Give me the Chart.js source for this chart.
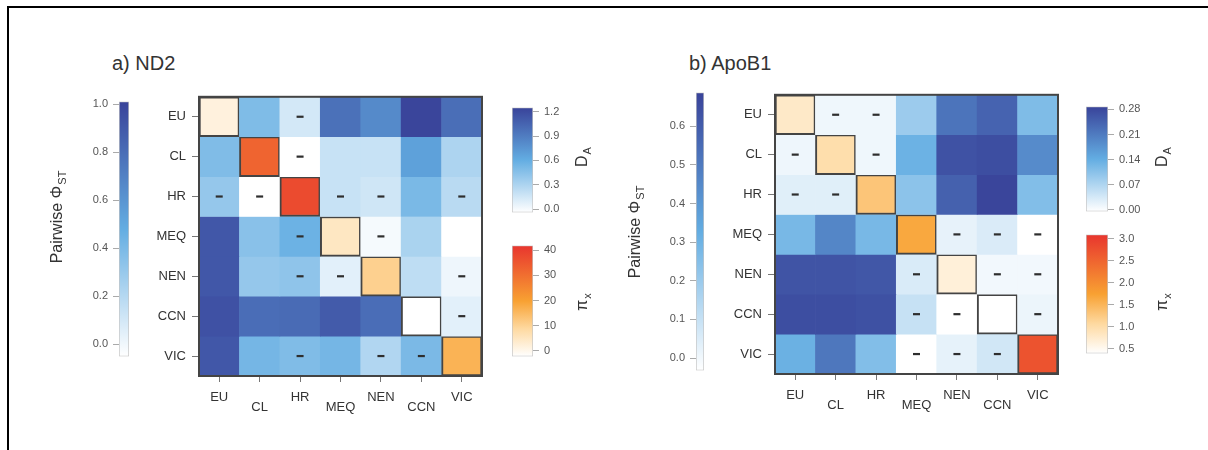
<!DOCTYPE html>
<html>
<head>
<meta charset="utf-8">
<script src="https://cdn.jsdelivr.net/npm/chart.js@4.4.1/dist/chart.umd.min.js"></script>
<style>
  html, body { margin: 0; padding: 0; background: #fff; overflow: hidden; }
  body { width: 1208px; height: 450px; position: relative; font-family: "Liberation Sans", Arial, sans-serif; }
  #frame { position: absolute; left: 7px; top: 6px; width: 1300px; height: 500px; border-left: 2px solid #000; border-top: 2px solid #000; }
  canvas { position: absolute; }
  .title { position: absolute; font-size: 20px; line-height: 20px; color: #333; }
</style>
</head>
<body>
<div id="frame"></div>
<div class="title" style="left:112px; top:53px">a) ND2</div>
<div class="title" style="left:689px; top:53px">b) ApoB1</div>

<script>
const pops = ['EU', 'CL', 'HR', 'MEQ', 'NEN', 'CCN', 'VIC'];

// a) ND2 : lower triangle = pairwise PhiST, upper triangle = D_A, diagonal = pi_x
const nd2Phi = [
  [],
  [0.38],
  [0.31, -0.05],
  [0.91, 0.35, 0.45],
  [0.91, 0.31, 0.33, 0.05],
  [0.94, 0.80, 0.81, 0.89, 0.80],
  [0.91, 0.42, 0.38, 0.42, 0.215, 0.40]
];
const nd2Da = [
  [0.49, 0.14, 0.97, 0.82, 1.24, 0.99],
  [-0.04, 0.19, 0.19, 0.68, 0.30],
  [0.19, 0.16, 0.51, 0.25],
  [0.0, 0.31, -0.04],
  [0.23, 0.03],
  [0.08],
  []
];
const nd2Pi = [1.7, 32.2, 37.5, 4.8, 10.5, -2.3, 16.3];
const nd2NS = [['EU', 'HR'], ['CL', 'HR'], ['HR', 'MEQ'], ['HR', 'NEN'], ['HR', 'VIC'], ['MEQ', 'NEN'], ['NEN', 'VIC'], ['CCN', 'VIC']];

// b) ApoB1
const apoPhi = [
  [],
  [0.008],
  [0.04, 0.04],
  [0.28, 0.46, 0.28],
  [0.63, 0.63, 0.62, 0.055],
  [0.65, 0.65, 0.64, 0.10, -0.032],
  [0.31, 0.51, 0.255, -0.032, 0.026, 0.075]
];
const apoDa = [
  [0.01, 0.01, 0.088, 0.22, 0.244, 0.115],
  [0.01, 0.133, 0.267, 0.273, 0.188],
  [0.103, 0.247, 0.285, 0.112],
  [0.018, 0.03, -0.005],
  [0.007, 0.007],
  [0.013],
  []
];
const apoPi = [0.78, 0.98, 1.31, 1.66, 0.66, 0.39, 2.72];
const apoNS = [['EU', 'CL'], ['EU', 'HR'], ['CL', 'HR'], ['MEQ', 'NEN'], ['MEQ', 'CCN'], ['MEQ', 'VIC'], ['NEN', 'CCN'], ['NEN', 'VIC'], ['CCN', 'VIC']];

// colour bar limits and tick labels
const nd2PhiLim = [-0.05, 1.01], nd2PhiTicks = [0, 0.2, 0.4, 0.6, 0.8, 1.0];
const nd2DaLim = [-0.04, 1.25], nd2DaTicks = [0, 0.3, 0.6, 0.9, 1.2];
const nd2PiLim = [-2.3, 41.9], nd2PiTicks = [0, 10, 20, 30, 40];
const apoPhiLim = [-0.032, 0.687], apoPhiTicks = [0, 0.1, 0.2, 0.3, 0.4, 0.5, 0.6];
const apoDaLim = [-0.005, 0.288], apoDaTicks = [0, 0.07, 0.14, 0.21, 0.28];
const apoPiLim = [0.39, 3.09], apoPiTicks = [0.5, 1.0, 1.5, 2.0, 2.5, 3.0];

const blueStops = [[0, '#ffffff'], [0.5, '#63ade2'], [1, '#39439a']];
const orangeStops = [[0, '#ffffff'], [0.25, '#fed9a0'], [0.5, '#f8a132'], [1, '#e8352e']];

const FONT = '"Liberation Sans", Arial, sans-serif';
Chart.defaults.font.family = FONT;

function hex(c) {
  return [1, 3, 5].map(k => parseInt(c.substr(k, 2), 16));
}
function ramp(stops, v, lim) {
  let t = (v - lim[0]) / (lim[1] - lim[0]);
  t = Math.max(0, Math.min(1, t));
  for (let k = 1; k < stops.length; k++) {
    if (t <= stops[k][0]) {
      const f = (t - stops[k - 1][0]) / (stops[k][0] - stops[k - 1][0]);
      const a = hex(stops[k - 1][1]), b = hex(stops[k][1]);
      return 'rgb(' + a.map((x, n) => Math.round(x + (b[n] - x) * f)).join(',') + ')';
    }
  }
  return stops[stops.length - 1][1];
}

function addCanvas(left, top, w, h) {
  const cv = document.createElement('canvas');
  cv.width = w; cv.height = h;
  cv.style.left = left + 'px'; cv.style.top = top + 'px';
  document.body.appendChild(cv);
  return cv;
}

// rotated axis title with a subscript
function subTitle(ctx, x, y, main, sub) {
  ctx.save();
  ctx.translate(x, y);
  ctx.rotate(-Math.PI / 2);
  ctx.font = '16px ' + FONT;
  const w1 = ctx.measureText(main).width;
  ctx.font = '11px ' + FONT;
  const w2 = ctx.measureText(sub).width;
  const x0 = -(w1 + w2 + 1) / 2;
  ctx.fillStyle = '#333';
  ctx.textAlign = 'left';
  ctx.textBaseline = 'alphabetic';
  ctx.font = '16px ' + FONT;
  ctx.fillText(main, x0, 6);
  ctx.font = '11px ' + FONT;
  ctx.fillText(sub, x0 + w1 + 1, 10);
  ctx.restore();
}

function colorBar(o) {
  const axisW = 100;
  const left = o.side === 'left' ? o.x0 - axisW : o.x0;
  const top = o.y0 - 10;
  const cv = addCanvas(left, top, o.x1 - o.x0 + axisW, o.y1 - o.y0 + 20);
  new Chart(cv, {
    type: 'bar',
    data: {
      labels: [''],
      datasets: [{
        data: [[o.lim[0], o.lim[1]]],
        backgroundColor: c => {
          const a = c.chart.chartArea;
          if (!a) return '#fff';
          const g = c.chart.ctx.createLinearGradient(0, a.bottom, 0, a.top);
          o.stops.forEach(s => g.addColorStop(s[0], s[1]));
          return g;
        },
        borderColor: '#c4c4c4',
        borderWidth: 1,
        borderSkipped: false,
        barPercentage: 1,
        categoryPercentage: 1
      }]
    },
    options: {
      responsive: false,
      animation: false,
      events: [],
      layout: { padding: { top: 10, bottom: 10, left: 0, right: 0 } },
      plugins: { legend: { display: false }, tooltip: { enabled: false } },
      scales: {
        x: { display: false },
        y: {
          position: o.side,
          min: o.lim[0],
          max: o.lim[1],
          afterFit: s => { s.width = axisW; },
          afterBuildTicks: s => { s.ticks = o.ticks.map(v => ({ value: v })); },
          ticks: { callback: v => v.toFixed(o.digits), font: { size: 11 }, color: '#555', padding: 5 },
          grid: { drawOnChartArea: false, tickLength: 6, color: '#aaa' },
          border: { display: false }
        }
      }
    },
    plugins: [{
      id: 'cbTitle',
      afterDraw: ch => subTitle(ch.ctx, o.tx - left, o.ty - top, o.title, o.sub)
    }]
  });
}

function heatmap(o) {
  const axisW = 69, axisH = 47;
  const left = o.x0 - axisW, top = o.y0 - 10;
  const cv = addCanvas(left, top, o.x1 - o.x0 + axisW + 10, o.y1 - o.y0 + 10 + axisH);
  const datasets = pops.map((row, i) => ({
    label: row,
    data: pops.map(() => [i, i + 1]),
    backgroundColor: pops.map((col, j) => {
      if (i === j) return ramp(orangeStops, o.pi[i], o.piLim);
      if (j < i) return ramp(blueStops, o.phi[i][j], o.phiLim);
      return ramp(blueStops, o.da[i][j - i - 1], o.daLim);
    }),
    borderColor: '#444',
    borderWidth: c => (c.dataIndex === i ? 2 : 0),
    borderSkipped: false,
    barPercentage: 1,
    categoryPercentage: 1,
    grouped: false
  }));

  new Chart(cv, {
    type: 'bar',
    data: { labels: pops, datasets: datasets },
    options: {
      responsive: false,
      animation: false,
      events: [],
      layout: { padding: { top: 10, right: 10, left: 0, bottom: 0 } },
      plugins: { legend: { display: false }, tooltip: { enabled: false } },
      scales: {
        x: {
          afterFit: s => { s.height = axisH; },
          ticks: {
            callback: (v, idx) => (idx % 2 ? ['', pops[idx]] : pops[idx]),
            font: { size: 13, lineHeight: 0.72 },
            color: '#333',
            padding: 11,
            maxRotation: 0,
            autoSkip: false
          },
          grid: { offset: false, drawOnChartArea: false, tickLength: 6, color: '#777' },
          border: { display: false }
        },
        y: {
          type: 'linear',
          reverse: true,
          min: 0,
          max: 7,
          afterFit: s => { s.width = axisW; },
          afterBuildTicks: s => { s.ticks = pops.map((p, k) => ({ value: k + 0.5 })); },
          ticks: { callback: v => pops[Math.floor(v)], font: { size: 13 }, color: '#333', padding: 6 },
          grid: { drawOnChartArea: false, tickLength: 7, color: '#777' },
          border: { display: false }
        }
      }
    },
    plugins: [{
      id: 'marks',
      afterDatasetsDraw: ch => {
        const ctx = ch.ctx, xs = ch.scales.x, ys = ch.scales.y, a = ch.chartArea;
        ctx.save();
        ctx.fillStyle = '#2e2e2e';
        o.ns.forEach(p => {
          const i = pops.indexOf(p[0]), j = pops.indexOf(p[1]);
          [[i, j], [j, i]].forEach(([r, c]) => {
            const cx = xs.getPixelForValue(c), cy = ys.getPixelForValue(r + 0.5);
            ctx.fillRect(cx - 3.5, cy - 1.1, 7, 2.2);
          });
        });
        ctx.strokeStyle = '#444';
        ctx.lineWidth = 2;
        ctx.strokeRect(a.left, a.top, a.right - a.left, a.bottom - a.top);
        ctx.restore();
      }
    }]
  });
}

// panel a
heatmap({ x0: 199, x1: 482, y0: 93, y1: 376, phi: nd2Phi, da: nd2Da, pi: nd2Pi, ns: nd2NS,
  phiLim: nd2PhiLim, daLim: nd2DaLim, piLim: nd2PiLim });
colorBar({ x0: 119, x1: 129, y0: 100, y1: 358, side: 'left', lim: nd2PhiLim, ticks: nd2PhiTicks, digits: 1,
  stops: blueStops, title: 'Pairwise \u03A6', sub: 'ST', tx: 56, ty: 217 });
colorBar({ x0: 512, x1: 533, y0: 106, y1: 214, side: 'right', lim: nd2DaLim, ticks: nd2DaTicks, digits: 1,
  stops: blueStops, title: 'D', sub: 'A', tx: 581, ty: 157 });
colorBar({ x0: 512, x1: 533, y0: 244, y1: 358, side: 'right', lim: nd2PiLim, ticks: nd2PiTicks, digits: 0,
  stops: orangeStops, title: '\u03C0', sub: 'x', tx: 581, ty: 302 });

// panel b
heatmap({ x0: 775, x1: 1058, y0: 91, y1: 374, phi: apoPhi, da: apoDa, pi: apoPi, ns: apoNS,
  phiLim: apoPhiLim, daLim: apoDaLim, piLim: apoPiLim });
colorBar({ x0: 696, x1: 704, y0: 91, y1: 372, side: 'left', lim: apoPhiLim, ticks: apoPhiTicks, digits: 1,
  stops: blueStops, title: 'Pairwise \u03A6', sub: 'ST', tx: 634, ty: 232 });
colorBar({ x0: 1086, x1: 1108, y0: 105, y1: 213, side: 'right', lim: apoDaLim, ticks: apoDaTicks, digits: 2,
  stops: blueStops, title: 'D', sub: 'A', tx: 1161, ty: 157 });
colorBar({ x0: 1086, x1: 1108, y0: 233, y1: 355, side: 'right', lim: apoPiLim, ticks: apoPiTicks, digits: 1,
  stops: orangeStops, title: '\u03C0', sub: 'x', tx: 1161, ty: 302 });
</script>
</body>
</html>
